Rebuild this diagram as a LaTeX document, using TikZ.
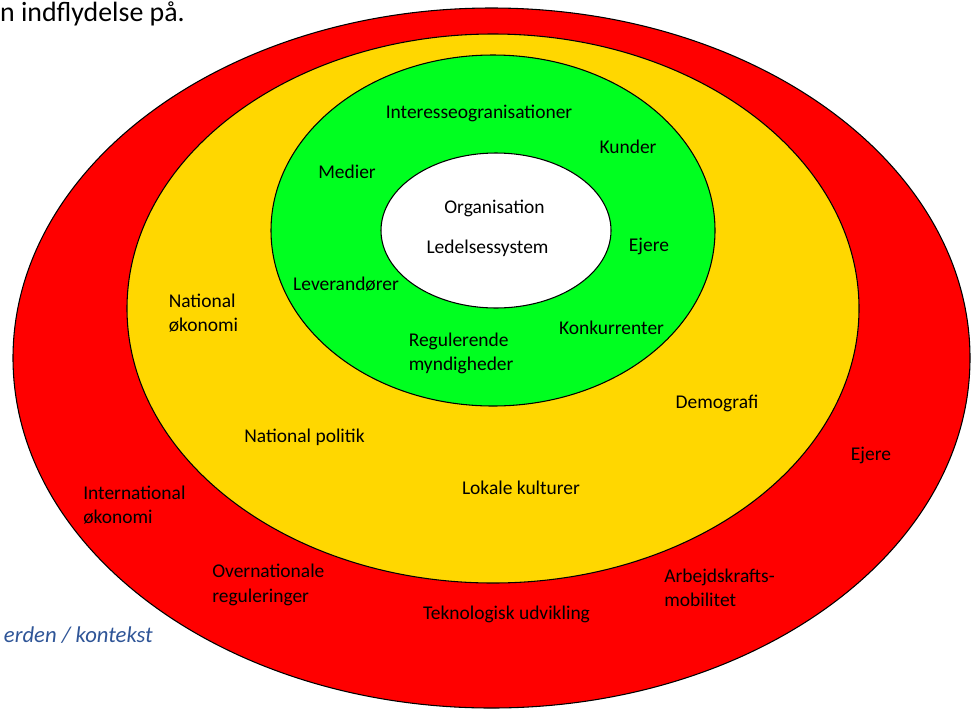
\documentclass[tikz,border=0pt]{standalone}
\usepackage{fontspec}
\setmainfont{Carlito}
\usetikzlibrary{shapes.geometric}
\definecolor{ringred}{RGB}{255,0,0}
\definecolor{ringyellow}{RGB}{255,215,0}
\definecolor{ringgreen}{RGB}{0,255,32}
\definecolor{notecolor}{RGB}{47,85,151}
\begin{document}
\begin{tikzpicture}[x=0.75pt, y=-0.75pt,
  ring/.style={shape=ellipse, draw=black, line width=0.8pt, inner sep=0pt},
  lbl/.style={inner sep=0pt, font=\fontsize{14.6}{18.4}\selectfont},
  lbl2/.style={lbl, anchor=west, align=left}]
\useasboundingbox (0,0) rectangle (973,711);
% rings
\node[ring, fill=ringred, minimum width=717.75pt, minimum height=525pt] (outer) at (491.5,358) {};
\node[ring, fill=ringyellow, minimum width=549pt, minimum height=411.75pt] (middle) at (493,308.5) {};
\node[ring, fill=ringgreen, minimum width=333pt, minimum height=263.25pt] (inner) at (493,230.5) {};
\node[ring, fill=white, minimum width=172.5pt, minimum height=116.25pt] (core) at (496,230.5) {};
% core
\node[lbl] (org) at (494.5,208.5) {Organisation};
\node[lbl] (ledelse) at (487.5,248.5) {Ledelsessystem};
% green ring
\node[lbl] (interesse) at (479,113) {Interesseogranisationer};
\node[lbl] (kunder) at (628,146.5) {Kunder};
\node[lbl] (medier) at (347,172) {Medier};
\node[lbl] (ejere1) at (649,246.5) {Ejere};
\node[lbl] (lev) at (346,284.5) {Leverandører};
\node[lbl] (konk) at (611.5,327.5) {Konkurrenter};
\node[lbl2] (myndig) at (408.5,353.5) {Regulerende\\myndigheder};
% yellow ring
\node[lbl2] (natoko) at (168.5,313) {National\\økonomi};
\node[lbl] (demo) at (717,403) {Demografi};
\node[lbl] (natpol) at (304.5,437.5) {National politik};
\node[lbl] (lokal) at (521,488) {Lokale kulturer};
% red ring
\node[lbl] (ejere2) at (871,455) {Ejere};
\node[lbl2] (intoko) at (83,505) {International\\økonomi};
\node[lbl2] (overnat) at (212,585) {Overnationale\\reguleringer};
\node[lbl2] (arbejd) at (664,588) {Arbejdskrafts-\\mobilitet};
\node[lbl] (tekno) at (506.5,614) {Teknologisk udvikling};
% cut text
\node[inner sep=0pt, anchor=base east, font=\fontsize{20.9}{24}\selectfont] (head) at (185,21) {n indflydelse på.};
\node[inner sep=0pt, anchor=base east, text=notecolor, font=\fontsize{17}{20}\itshape] (kontekst) at (153,642) {erden / kontekst};
\end{tikzpicture}
\end{document}
